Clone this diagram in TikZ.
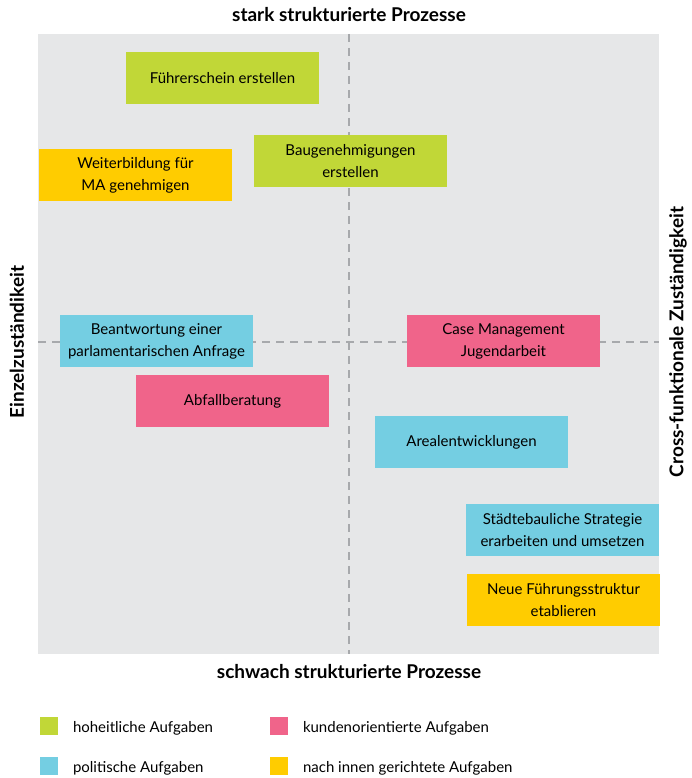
\documentclass[tikz,border=0pt]{standalone}
\usepackage{fontspec}
\setmainfont{Lato}
\begin{document}
\begin{tikzpicture}[x=1pt,y=-1pt,
  every node/.style={inner sep=0pt, outer sep=0pt, font=\fontsize{15}{22}\selectfont},
  task/.style={minimum width=193pt, minimum height=52pt, align=center, anchor=north west},
  grn/.style={task, fill=hgreen},
  ylw/.style={task, fill=hyellow},
  blu/.style={task, fill=hblue},
  pnk/.style={task, fill=hpink},
  axislbl/.style={font=\fontsize{19}{22}\selectfont\bfseries},
  divider/.style={draw=dashgray, line width=1.2pt, dash pattern=on 8pt off 6pt},
  swatch/.style={minimum width=18pt, minimum height=18pt, anchor=north west},
  legtext/.style={anchor=west}
]
\definecolor{hgreen}{HTML}{C1D737}
\definecolor{hyellow}{HTML}{FFCC00}
\definecolor{hblue}{HTML}{74CEE2}
\definecolor{hpink}{HTML}{F0648A}
\definecolor{panel}{HTML}{E6E7E8}
\definecolor{dashgray}{HTML}{A7A9AC}

\useasboundingbox (0,0) rectangle (691,778);

% quadrant panel and the two dashed axes
\fill[panel] (38,34) rectangle (659,654);
\coordinate (vtop) at (349,34);
\coordinate (vbot) at (349,654);
\coordinate (hleft) at (38,342);
\coordinate (hright) at (659,342);
\draw[divider] (vtop) -- (vbot);
\draw[divider] (hleft) -- (hright);

% axis labels
\node[axislbl] (top) at (349,15) {stark strukturierte Prozesse};
\node[axislbl] (bottom) at (349,672) {schwach strukturierte Prozesse};
\node[axislbl, rotate=90] (left) at (17,342) {Einzelzuständikeit};
\node[axislbl, rotate=90] (right) at (678,342) {Cross-funktionale Zuständigkeit};

% tasks
\node[grn] (fs) at (126,52) {Führerschein erstellen};
\node[ylw] (wb) at (39,149) {Weiterbildung für\\MA genehmigen};
\node[grn] (bg) at (254,135) {Baugenehmigungen\\erstellen};
\node[blu] (pa) at (60,315) {Beantwortung einer\\parlamentarischen Anfrage};
\node[pnk] (cm) at (407,315) {Case Management\\Jugendarbeit};
\node[pnk] (ab) at (136,375) {Abfallberatung};
\node[blu] (ae) at (375,416) {Arealentwicklungen};
\node[blu] (st) at (466,504) {Städtebauliche Strategie\\erarbeiten und umsetzen};
\node[ylw] (nf) at (467,574) {Neue Führungsstruktur\\etablieren};

% legend
\node[swatch, fill=hgreen] (l1) at (40,717) {};
\node[legtext] (t1) at (73,728) {hoheitliche Aufgaben};
\node[swatch, fill=hpink] (l2) at (270,717) {};
\node[legtext] (t2) at (303,728) {kundenorientierte Aufgaben};
\node[swatch, fill=hblue] (l3) at (40,757) {};
\node[legtext] (t3) at (73,768) {politische Aufgaben};
\node[swatch, fill=hyellow] (l4) at (270,757) {};
\node[legtext] (t4) at (303,768) {nach innen gerichtete Aufgaben};
\end{tikzpicture}
\end{document}
